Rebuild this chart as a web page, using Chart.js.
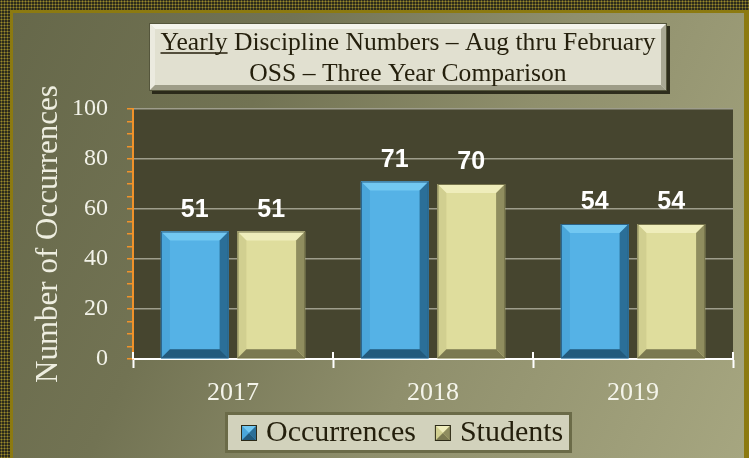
<!DOCTYPE html>
<html>
<head>
<meta charset="utf-8">
<script src="https://cdn.jsdelivr.net/npm/chart.js@4"></script>
<style>
  html, body { margin: 0; padding: 0; }
  body {
    width: 749px; height: 458px; overflow: hidden; position: relative;
    background-color: #2c2b1c;
    background-image: radial-gradient(circle, #9a8a2c 0.8px, transparent 1.2px);
    background-size: 3px 3px;
  }
  #frame {
    position: absolute; left: 10px; top: 10px; width: 739px; height: 448px;
    box-sizing: border-box;
    border-left: 3px solid #8c7a10; border-top: 3px solid #8c7a10; border-right: 5px solid #8c7a10;
    background: linear-gradient(115deg, #66684a 0%, #727353 30%, #8f8f6c 60%, #a6a680 100%);
  }
  canvas { position: absolute; left: 0; top: 0; }
</style>
</head>
<body>
<div id="frame"></div>
<canvas id="chart" width="749" height="458"></canvas>
<script>
// datos del gráfico
const years = ["2017", "2018", "2019"];
const occurrences = [51, 71, 54];
const students = [51, 70, 54];
const yTicks = [0, 20, 40, 60, 80, 100];

const titleLines = ["Yearly Discipline Numbers \u2013 Aug thru February", "OSS \u2013 Three Year Comparison"];

// colores de bisel por serie
const bevels = [
  { face: "#55b2e6", top: "#72c8f2", left: "#4aa6da", right: "#2b6f98", bottom: "#225a7c", edge: "#2a6186" },
  { face: "#dfdd9d", top: "#efedbb", left: "#d1cf90", right: "#8f8d5f", bottom: "#7b7950", edge: "#76744c" }
];

function poly(ctx, pts, color) {
  ctx.beginPath();
  ctx.moveTo(pts[0][0], pts[0][1]);
  for (let i = 1; i < pts.length; i++) ctx.lineTo(pts[i][0], pts[i][1]);
  ctx.closePath();
  ctx.fillStyle = color;
  ctx.fill();
}

function bevelBox(ctx, l, t, w, h, e, c) {
  const r = l + w, b = t + h;
  ctx.fillStyle = c.face;
  ctx.fillRect(l, t, w, h);
  poly(ctx, [[l, t], [r, t], [r - e, t + e], [l + e, t + e]], c.top);
  poly(ctx, [[l, t], [l + e, t + e], [l + e, b - e], [l, b]], c.left);
  poly(ctx, [[r, t], [r, b], [r - e, b - e], [r - e, t + e]], c.right);
  poly(ctx, [[l, b], [l + e, b - e], [r - e, b - e], [r, b]], c.bottom);
}

const decor = {
  id: "decor",
  beforeDraw(chart) {
    const { ctx, chartArea: a } = chart;
    ctx.save();
    ctx.fillStyle = "#46452f";
    ctx.fillRect(a.left, a.top, a.right - a.left, a.bottom - a.top);
    ctx.restore();
  },
  afterDatasetsDraw(chart) {
    const ctx = chart.ctx;
    ctx.save();
    chart.data.datasets.forEach((ds, i) => {
      const meta = chart.getDatasetMeta(i);
      const c = bevels[i];
      meta.data.forEach((bar, j) => {
        const { x, y, base, width } = bar.getProps(["x", "y", "base", "width"], true);
        const l = x - width / 2;
        bevelBox(ctx, l, y, width, base - y, 9, c);
        ctx.strokeStyle = c.edge;
        ctx.lineWidth = 1;
        ctx.strokeRect(l + 0.5, y + 0.5, width - 1, base - y - 1);
        ctx.fillStyle = "#ffffff";
        ctx.font = "bold 25px 'Liberation Sans', Arial, sans-serif";
        ctx.textAlign = "center";
        ctx.textBaseline = "alphabetic";
        ctx.fillText(ds.data[j], x, y - 15);
      });
    });
    ctx.restore();
  },
  afterDraw(chart) {
    const ctx = chart.ctx;
    const a = chart.chartArea;
    const xs = chart.scales.x;
    ctx.save();

    // marcas del eje X que sobresalen hacia arriba
    ctx.strokeStyle = "#ffffff";
    ctx.lineWidth = 2;
    const n = chart.data.labels.length;
    for (let i = 0; i <= n; i++) {
      let px;
      if (i === 0) px = a.left;
      else if (i === n) px = a.right;
      else px = (xs.getPixelForValue(i - 1) + xs.getPixelForValue(i)) / 2;
      ctx.beginPath();
      ctx.moveTo(px, a.bottom - 7);
      ctx.lineTo(px, a.bottom);
      ctx.stroke();
    }

    // caja del título
    const bx = 149, by = 23, bw = 518, bh = 68;
    ctx.fillStyle = "rgba(35,34,20,0.9)";
    ctx.fillRect(bx + 3, by + 3, bw, bh);
    bevelBox(ctx, bx, by, bw, bh, 6, {
      face: "#e1e0d0", top: "#f4f4ec", left: "#ebeadf", right: "#a9a894", bottom: "#9e9d88"
    });
    ctx.strokeStyle = "#55563c";
    ctx.lineWidth = 1;
    ctx.strokeRect(bx + 0.5, by + 0.5, bw - 1, bh - 1);

    ctx.fillStyle = "#241f0c";
    ctx.font = "25.6px 'Liberation Serif', serif";
    ctx.textAlign = "center";
    ctx.textBaseline = "alphabetic";
    const cx = bx + bw / 2;
    ctx.fillText(titleLines[0], cx, 50);
    ctx.fillText(titleLines[1], cx, 81);
    const full = ctx.measureText(titleLines[0]).width;
    const uw = ctx.measureText("Yearly").width;
    ctx.strokeStyle = "#241f0c";
    ctx.lineWidth = 1.3;
    ctx.beginPath();
    ctx.moveTo(cx - full / 2, 53);
    ctx.lineTo(cx - full / 2 + uw, 53);
    ctx.stroke();

    // leyenda
    const lx = 225, ly = 412, lw = 347, lh = 41;
    ctx.fillStyle = "#d2d2bc";
    ctx.fillRect(lx, ly, lw, lh);
    ctx.strokeStyle = "#6b6b48";
    ctx.lineWidth = 3;
    ctx.strokeRect(lx + 1.5, ly + 1.5, lw - 3, lh - 3);
    ctx.font = "30px 'Liberation Serif', serif";
    ctx.textAlign = "left";
    let x = 241;
    chart.data.datasets.forEach((ds, i) => {
      const c = bevels[i];
      const s = 16, mx = x, my = 425;
      ctx.fillStyle = c.face;
      ctx.fillRect(mx, my, s, s);
      const m = [mx + s / 2, my + s / 2];
      poly(ctx, [[mx, my], [mx + s, my], m], c.top);
      poly(ctx, [[mx, my], m, [mx, my + s]], c.left);
      poly(ctx, [[mx + s, my], [mx + s, my + s], m], c.right);
      poly(ctx, [[mx, my + s], m, [mx + s, my + s]], c.bottom);
      ctx.strokeStyle = "#2c2a18";
      ctx.lineWidth = 1;
      ctx.strokeRect(mx + 0.5, my + 0.5, s - 1, s - 1);
      ctx.fillStyle = "#241f0c";
      ctx.fillText(ds.label, mx + 25, 441);
      x = mx + 25 + ctx.measureText(ds.label).width + 19;
    });
    ctx.restore();
  }
};

const ctx = document.getElementById("chart").getContext("2d");
new Chart(ctx, {
  type: "bar",
  data: {
    labels: years,
    datasets: [
      { label: "Occurrences", data: occurrences, backgroundColor: bevels[0].face,
        categoryPercentage: 0.765, barPercentage: 0.885 },
      { label: "Students", data: students, backgroundColor: bevels[1].face,
        categoryPercentage: 0.765, barPercentage: 0.885 }
    ]
  },
  options: {
    responsive: false,
    animation: false,
    devicePixelRatio: 1,
    layout: { padding: { top: 109, right: 16, bottom: 0, left: 0 } },
    plugins: {
      legend: { display: false },
      title: { display: false },
      tooltip: { enabled: false }
    },
    scales: {
      x: {
        grid: { offset: true, drawOnChartArea: false, tickLength: 9, tickColor: "#ffffff", tickWidth: 2 },
        border: { color: "#ffffff", width: 2 },
        ticks: { color: "#f4f4ea", font: { family: "'Liberation Serif', serif", size: 26 }, padding: 10 },
        afterFit: s => { s.height = 99; }
      },
      y: {
        min: 0,
        max: 100,
        ticks: {
          stepSize: 5,
          autoSkip: false,
          callback: v => yTicks.includes(v) ? v : "",
          color: "#f2f2e8",
          font: { family: "'Liberation Serif', serif", size: 24 },
          padding: 19
        },
        grid: {
          color: c => (c.tick && yTicks.includes(c.tick.value)) ? (c.tick.value === 0 ? "#ffffff" : "#9e9d8c") : "rgba(0,0,0,0)",
          lineWidth: 1.5,
          tickLength: 6,
          tickColor: "#f0922a",
          tickWidth: 1.5
        },
        border: { color: "#f0922a", width: 2 },
        title: {
          display: true,
          text: "Number of Occurrences",
          color: "#eeeee0",
          font: { family: "'Liberation Serif', serif", size: 31 },
          padding: { top: 30 }
        },
        afterFit: s => { s.width = 133; }
      }
    }
  },
  plugins: [decor]
});
</script>
</body>
</html>
